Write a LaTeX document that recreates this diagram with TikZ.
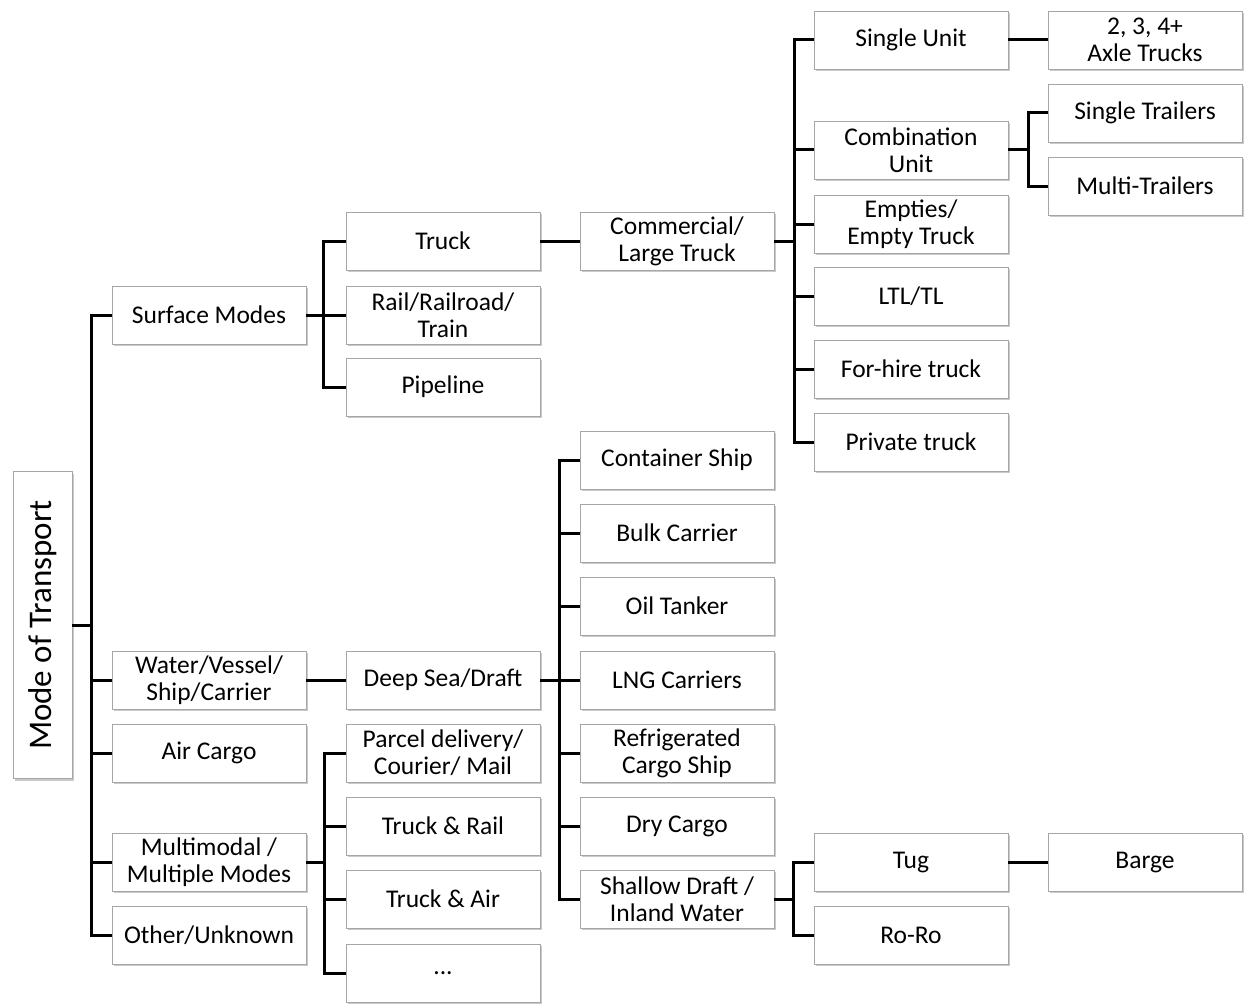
\documentclass[tikz,border=0pt]{standalone}
\usepackage{fontspec}
\setmainfont{Carlito}
\usetikzlibrary{shadows}
\begin{document}
\begin{tikzpicture}[x=1pt,y=-1pt,
  box/.style={draw=black!35, line width=0.9pt, fill=white,
    minimum width=194pt, minimum height=58pt, inner sep=2pt,
    align=center, font=\fontsize{25.5}{27}\selectfont,
    drop shadow={shadow xshift=1.5pt, shadow yshift=-2pt, fill=black!60, opacity=0.35}},
  link/.style={line width=3pt, line join=miter}]

\useasboundingbox (0,0) rectangle (1246,1003);

% root
\node[box, minimum width=59pt, minimum height=307pt] (root) at (42.5,625)
  {\rotatebox{90}{\fontsize{33}{36}\selectfont Mode of Transport}};

% level 1
\node[box] (surface) at (209,315) {Surface Modes};
\node[box] (water)   at (209,680) {Water/Vessel/\\Ship/Carrier};
\node[box] (air)     at (209,753) {Air Cargo};
\node[box] (multi)   at (209,862) {Multimodal /\\Multiple Modes};
\node[box] (other)   at (209,935) {Other/Unknown};

% level 2
\node[box] (truck)    at (443,241) {Truck};
\node[box] (rail)     at (443,315) {Rail/Railroad/\\Train};
\node[box] (pipe)     at (443,387) {Pipeline};
\node[box] (deepsea)  at (443,680) {Deep Sea/Draft};
\node[box] (parcel)   at (443,753) {Parcel delivery/\\Courier/ Mail};
\node[box] (truckrail) at (443,826) {Truck \& Rail};
\node[box] (truckair) at (443,899) {Truck \& Air};
\node[box] (more)     at (443,973) {...};

% level 3
\node[box] (commercial) at (677,241) {Commercial/\\Large Truck};
\node[box] (container)  at (677,460) {Container Ship};
\node[box] (bulk)       at (677,533) {Bulk Carrier};
\node[box] (oil)        at (677,606) {Oil Tanker};
\node[box] (lng)        at (677,680) {LNG Carriers};
\node[box] (reefer)     at (677,753) {Refrigerated\\Cargo Ship};
\node[box] (dry)        at (677,826) {Dry Cargo};
\node[box] (shallow)    at (677,899) {Shallow Draft /\\Inland Water};

% level 4
\node[box] (single)   at (911,40)  {Single Unit};
\node[box] (combo)    at (911,150) {Combination\\Unit};
\node[box] (empties)  at (911,224) {Empties/\\Empty Truck};
\node[box] (ltl)      at (911,296) {LTL/TL};
\node[box] (forhire)  at (911,369) {For-hire truck};
\node[box] (private)  at (911,442) {Private truck};
\node[box] (tug)      at (911,862) {Tug};
\node[box] (roro)     at (911,935) {Ro-Ro};

% level 5
\node[box] (axle)     at (1145,40)  {2, 3, 4+\\Axle Trucks};
\node[box] (strailer) at (1145,113) {Single Trailers};
\node[box] (mtrailer) at (1145,186) {Multi-Trailers};
\node[box] (barge)    at (1145,862) {Barge};

% connectors
\foreach \c in {surface,water,air,multi,other}
  \draw[link] (root.east) -- ++(19,0) |- (\c.west);
\foreach \c in {truck,rail,pipe}
  \draw[link] (surface.east) -- ++(17,0) |- (\c.west);
\foreach \c in {parcel,truckrail,truckair,more}
  \draw[link] (multi.east) -- ++(18,0) |- (\c.west);
\foreach \c in {container,bulk,oil,lng,reefer,dry,shallow}
  \draw[link] (deepsea.east) -- ++(19,0) |- (\c.west);
\foreach \c in {single,combo,empties,ltl,forhire,private}
  \draw[link] (commercial.east) -- ++(20,0) |- (\c.west);
\foreach \c in {tug,roro}
  \draw[link] (shallow.east) -- ++(19,0) |- (\c.west);
\foreach \c in {strailer,mtrailer}
  \draw[link] (combo.east) -- ++(20,0) |- (\c.west);
\draw[link] (truck.east) -- (commercial.west);
\draw[link] (water.east) -- (deepsea.west);
\draw[link] (single.east) -- (axle.west);
\draw[link] (tug.east) -- (barge.west);

\end{tikzpicture}
\end{document}
